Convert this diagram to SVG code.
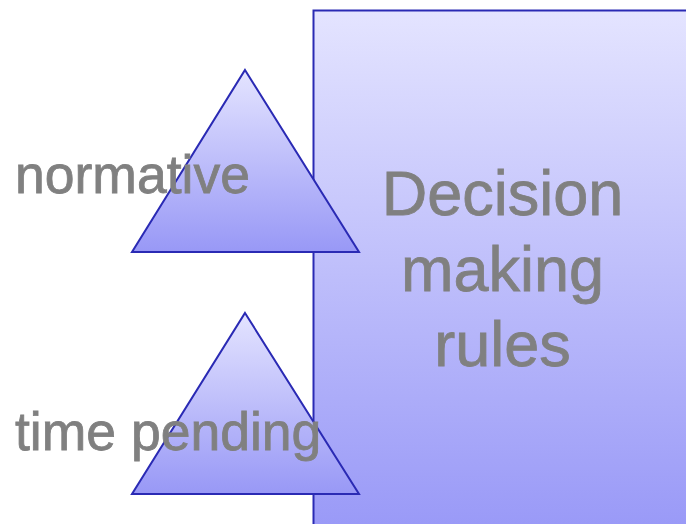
<svg xmlns="http://www.w3.org/2000/svg" width="686" height="524" viewBox="0 0 686 524">
<defs>
<linearGradient id="gRect" x1="0" y1="0" x2="0" y2="1">
<stop offset="0" stop-color="#e4e4ff"/>
<stop offset="1" stop-color="#9999f7"/>
</linearGradient>
<linearGradient id="gTri" x1="0" y1="0" x2="0" y2="1">
<stop offset="0" stop-color="#e4e4ff"/>
<stop offset="1" stop-color="#9898f6"/>
</linearGradient>
<style>
.shape{stroke:#2a2ab4;stroke-width:2;stroke-linejoin:miter}
.lbl{font-family:"Liberation Sans",Arial,sans-serif;fill:#808080;stroke:#808080;stroke-width:0.8}
</style>
</defs>
<g id="rules">
<rect class="shape" x="313.5" y="10.5" width="380" height="520" fill="url(#gRect)"/>
</g>
<g id="normative">
<polygon class="shape" points="245,70 359,252 132,252" fill="url(#gTri)"/>
</g>
<g id="timepending">
<polygon class="shape" points="245,313 359,494 132,494" fill="url(#gTri)"/>
</g>
<g id="connectors"></g>
<g id="labels">
<text class="lbl" x="15" y="193" font-size="53.5">normative</text>
<text class="lbl" x="15" y="450" font-size="53.5">time pending</text>
<text class="lbl" x="502.5" y="215" font-size="63" text-anchor="middle">Decision</text>
<text class="lbl" x="502.5" y="291" font-size="63" text-anchor="middle">making</text>
<text class="lbl" x="502.5" y="366" font-size="63" text-anchor="middle">rules</text>
</g>
</svg>
